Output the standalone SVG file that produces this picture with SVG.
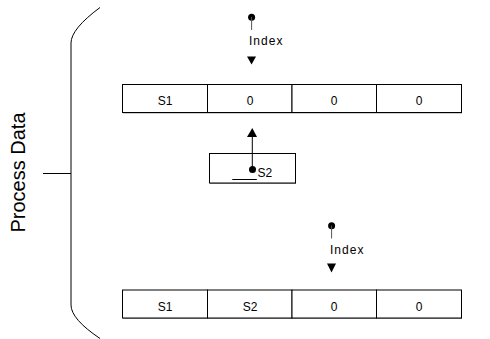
<svg xmlns="http://www.w3.org/2000/svg" width="490" height="339" viewBox="0 0 490 339">
<defs>
<style>
.cell{fill:#fff;stroke:#000;stroke-width:1}
.sh{stroke:#999;stroke-width:1}
.t{font-family:"Liberation Sans",Arial,sans-serif;font-size:12px;fill:#000;text-anchor:middle}
.lbl{font-family:"Liberation Sans",Arial,sans-serif;font-size:12px;fill:#000}
.ln{stroke:#000;stroke-width:1;fill:none}
.gl{stroke:#555;stroke-width:1;fill:none}
</style>
</defs>
<rect width="490" height="339" fill="#fff"/>
<g id="bracket">
<path class="ln" d="M100,7.5 Q71,29 71,43 V305 Q71,319 100,338.5"/>
<line class="ln" x1="43" y1="173.5" x2="71" y2="173.5"/>
<text class="t" transform="translate(25,172.5) rotate(-90)" style="font-size:20px">Process Data</text>
</g>
<g id="row1">
<line class="sh" x1="123" y1="113" x2="462" y2="113"/>
<rect class="cell" x="122.5" y="84.5" width="85" height="28"/>
<rect class="cell" x="207.5" y="84.5" width="84.5" height="28"/>
<rect class="cell" x="292" y="84.5" width="84.5" height="28"/>
<rect class="cell" x="376.5" y="84.5" width="85" height="28"/>
<text class="t" x="165" y="105">S1</text>
<text class="t" x="250" y="105">0</text>
<text class="t" x="334" y="105">0</text>
<text class="t" x="419" y="105">0</text>
</g>
<g id="row2">
<line class="sh" x1="123" y1="318.5" x2="462" y2="318.5"/>
<rect class="cell" x="122.5" y="290" width="85" height="28"/>
<rect class="cell" x="207.5" y="290" width="84.5" height="28"/>
<rect class="cell" x="292" y="290" width="84.5" height="28"/>
<rect class="cell" x="376.5" y="290" width="85" height="28"/>
<text class="t" x="165" y="310.5">S1</text>
<text class="t" x="250" y="310.5">S2</text>
<text class="t" x="334" y="310.5">0</text>
<text class="t" x="419" y="310.5">0</text>
</g>
<g id="s2box">
<line class="sh" x1="210" y1="183.5" x2="296" y2="183.5"/>
<rect class="cell" x="209.5" y="153.5" width="86" height="29.5"/>
<text class="lbl" x="232.5" y="176.5"><tspan textLength="24" lengthAdjust="spacingAndGlyphs">__</tspan><tspan x="257.5">S2</tspan></text>
</g>
<g id="index1">
<text class="lbl" x="249" y="45" textLength="33.5">Index</text>
</g>
<g id="index2">
<text class="lbl" x="330" y="254.3" textLength="33.5">Index</text>
</g>
<g id="connectors">
<circle cx="251.6" cy="17.3" r="3.5" fill="#000"/>
<line class="gl" x1="251.6" y1="17" x2="251.6" y2="30"/>
<polygon points="247,56.5 256,56.5 251.5,64.5" fill="#000"/>
<circle cx="331.6" cy="225.7" r="3.5" fill="#000"/>
<line class="gl" x1="331.6" y1="225.5" x2="331.6" y2="238.5"/>
<polygon points="327,263.5 336,263.5 331.5,272.5" fill="#000"/>
<line class="ln" x1="252.3" y1="136" x2="252.3" y2="169.5"/>
<polygon points="247,137 257,137 252.3,128" fill="#000"/>
<circle cx="252.5" cy="169.5" r="3.5" fill="#000"/>
</g>
</svg>
